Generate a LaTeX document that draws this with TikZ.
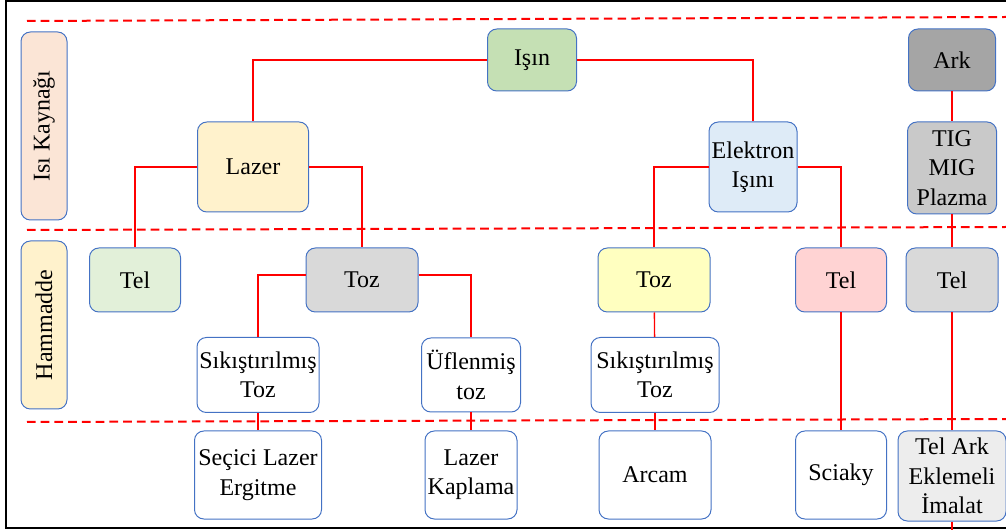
\documentclass[tikz,border=0pt]{standalone}
\usepackage{fontspec}
\setmainfont{Liberation Serif}
\usetikzlibrary{positioning}
\definecolor{boxblue}{HTML}{4472C4}
\definecolor{peach}{HTML}{FBE5D6}
\definecolor{cream}{HTML}{FFF2CC}
\definecolor{sage}{HTML}{C5E0B4}
\definecolor{skyblue}{HTML}{DEEBF7}
\definecolor{darkgrey}{HTML}{A5A5A5}
\definecolor{midgrey}{HTML}{C9C9C9}
\definecolor{mint}{HTML}{E2F0D9}
\definecolor{lightgrey}{HTML}{D9D9D9}
\definecolor{lemon}{HTML}{FFFFC0}
\definecolor{rose}{HTML}{FFD3D3}
\definecolor{paleGrey}{HTML}{EDEDED}

\begin{document}
\begin{tikzpicture}[x=0.75pt,y=-0.75pt,
    box/.style={draw=boxblue, line width=0.75pt, rounded corners=7pt, align=center,
        inner sep=0pt, font=\fontsize{18}{22}\selectfont},
    side/.style={box, rotate=90, minimum height=34.5pt},
    link/.style={draw=red, line width=1pt},
    sep/.style={red, line width=1.5pt, dash pattern=on 6.5pt off 3.8pt}]
    \useasboundingbox (0,0) rectangle (1006,530);
    % frame and level lines
    \draw[line width=1.5pt] (1006,1) -- (6,1) -- (6,528) -- (1006,528);
    \draw[sep] (27,21) -- (1006,17);
    \draw[sep] (27,230) -- (1006,227);
    \draw[sep] (27,422) -- (1006,419);
    % level labels
    \node[side, fill=peach, minimum width=141pt] (kaynak) at (44,126) {Isı Kaynağı};
    \node[side, fill=cream, minimum width=126pt] (hammadde) at (44,325) {Hammadde};
    % heat sources
    \node[box, fill=sage, minimum width=66.75pt, minimum height=46.5pt] (isin) at (532,60) {Işın};
    \node[box, fill=cream, minimum width=83.25pt, minimum height=67.5pt] (lazer) at (253,167) {Lazer};
    \node[box, fill=skyblue, minimum width=66pt, minimum height=67.5pt] (elektron) at (753,167) {Elektron\\Işını};
    \node[box, fill=darkgrey, minimum width=65.25pt, minimum height=46.5pt] (ark) at (952,60) {Ark};
    \node[box, fill=midgrey, minimum width=66.75pt, minimum height=69pt] (tig) at (952,168) {TIG\\MIG\\Plazma};
    % feedstock
    \node[box, fill=mint, minimum width=68.25pt, minimum height=48pt] (tel1) at (135,280) {Tel};
    \node[box, fill=lightgrey, minimum width=84pt, minimum height=48pt] (toz1) at (362,280) {Toz};
    \node[box, fill=lemon, minimum width=84pt, minimum height=48pt] (toz2) at (654,280) {Toz};
    \node[box, fill=rose, minimum width=68.25pt, minimum height=48pt] (tel2) at (841,280) {Tel};
    \node[box, fill=lightgrey, minimum width=69pt, minimum height=48pt] (tel3) at (952,280) {Tel};
    \node[box, fill=white, minimum width=91.5pt, minimum height=56.25pt] (sik1) at (258,375) {Sıkıştırılmış\\Toz};
    \node[box, fill=white, minimum width=74.25pt, minimum height=55.5pt] (ufle) at (471,375) {Üflenmiş\\toz};
    \node[box, fill=white, minimum width=96pt, minimum height=56.25pt] (sik2) at (655,375) {Sıkıştırılmış\\Toz};
    % processes
    \node[box, fill=white, minimum width=95.25pt, minimum height=66pt] (secici) at (258,475) {Seçici Lazer\\Ergitme};
    \node[box, fill=white, minimum width=69pt, minimum height=66pt] (kaplama) at (471,475) {Lazer\\Kaplama};
    \node[box, fill=white, minimum width=84pt, minimum height=66pt] (arcam) at (655,475) {Arcam};
    \node[box, fill=white, minimum width=68.25pt, minimum height=66pt] (sciaky) at (841,475) {Sciaky};
    \node[box, fill=paleGrey, minimum width=81pt, minimum height=67.5pt] (telark) at (952,476) {Tel Ark\\Eklemeli\\İmalat};
    \coordinate (altuc) at (952,530);
    % connectors
    \draw[link] (isin.west) -| (lazer.north);
    \draw[link] (isin.east) -| (elektron.north);
    \draw[link] (lazer.west) -| (tel1.north);
    \draw[link] (lazer.east) -| (toz1.north);
    \draw[link] (elektron.west) -| (toz2.north);
    \draw[link] (elektron.east) -| (tel2.north);
    \draw[link] (ark) -- (tig);
    \draw[link] (tig) -- (tel3);
    \draw[link] ([yshift=3.75pt]toz1.west) -| (sik1.north);
    \draw[link] ([yshift=3.75pt]toz1.east) -| (ufle.north);
    \draw[link] (sik1) -- (secici);
    \draw[link] (ufle) -- (kaplama);
    \draw[link] (toz2) -- (sik2);
    \draw[link] (sik2) -- (arcam);
    \draw[link] (tel2) -- (sciaky);
    \draw[link] (tel3) -- (telark);
    \draw[link] (telark) -- (altuc);
\end{tikzpicture}
\end{document}
